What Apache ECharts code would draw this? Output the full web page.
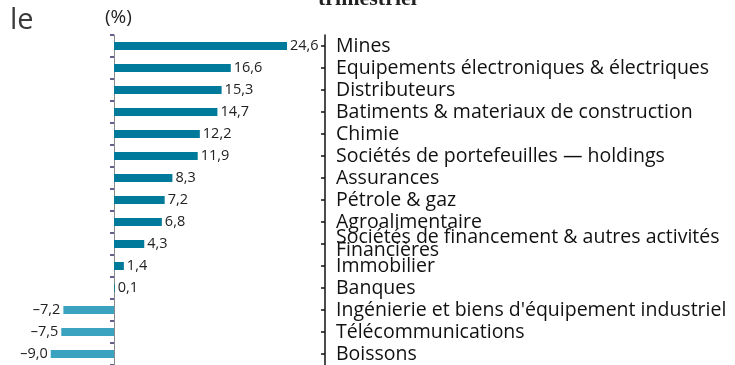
<!DOCTYPE html>
<html>
<head>
<meta charset="utf-8">
<script src="https://cdn.jsdelivr.net/npm/echarts@6/dist/echarts.min.js"></script>
<style>
  html, body { margin: 0; padding: 0; background: #fff; }
  #chart { width: 735px; height: 365px; }
</style>
</head>
<body>
<div id="chart"></div>
<script>
// Sector performance over the quarter, in %
const sectors = [
  'Mines',
  'Equipements électroniques & électriques',
  'Distributeurs',
  'Batiments & materiaux de construction',
  'Chimie',
  'Sociétés de portefeuilles — holdings',
  'Assurances',
  'Pétrole & gaz',
  'Agroalimentaire',
  'Sociétés de financement & autres activités\nFinancières',
  'Immobilier',
  'Banques',
  "Ingénierie et biens d'équipement industriel",
  'Télécommunications',
  'Boissons'
];
const changes = [24.6, 16.6, 15.3, 14.7, 12.2, 11.9, 8.3, 7.2, 6.8, 4.3, 1.4, 0.1, -7.2, -7.5, -9.0];

const POS_COLOR = '#007a9b';
const NEG_COLOR = '#3ba3c0';
const FONT = '"Open Sans", "Noto Sans", sans-serif';

const fmt = v => (v < 0 ? '–' : '') + Math.abs(v).toFixed(1).replace('.', ',');

const barData = changes.map(v => ({
  value: v,
  itemStyle: { color: v < 0 ? NEG_COLOR : POS_COLOR },
  label: { position: v < 0 ? 'left' : 'right' }
}));

const chart = echarts.init(document.getElementById('chart'), null, { renderer: 'canvas' });
chart.setOption({
  animation: false,
  backgroundColor: '#ffffff',
  grid: { left: 1.5, right: 410, top: 35, bottom: -3, containLabel: false },
  xAxis: {
    type: 'value',
    min: -16,
    max: 30,
    show: false
  },
  yAxis: [
    {
      type: 'category',
      data: sectors,
      inverse: true,
      position: 'left',
      axisLine: { show: true, onZero: true, lineStyle: { color: '#8a8a8a', width: 1 } },
      axisTick: { show: true, interval: 0, length: 4, lineStyle: { color: '#2f2a6b', width: 1.5 } },
      axisLabel: { show: false },
      splitLine: { show: false }
    },
    {
      type: 'category',
      data: sectors,
      inverse: true,
      position: 'right',
      axisLine: { show: true, onZero: false, lineStyle: { color: '#111', width: 1.5 } },
      axisTick: { show: true, interval: 0, inside: true, alignWithLabel: true, length: 4, lineStyle: { color: '#111', width: 1.5 } },
      axisLabel: {
        show: true,
        interval: 0,
        margin: 11,
        fontFamily: FONT,
        fontSize: 19.5,
        color: '#111',
        lineHeight: 13
      },
      splitLine: { show: false }
    }
  ],
  series: [{
    type: 'bar',
    yAxisIndex: 0,
    data: barData,
    barWidth: 8,
    label: {
      show: true,
      distance: 3,
      fontFamily: FONT,
      fontSize: 14.5,
      color: '#222',
      formatter: p => fmt(p.value)
    }
  }],
  graphic: [
    {
      type: 'text',
      left: 10, top: 6,
      style: { text: 'le', font: '29px "Open Sans", sans-serif', fill: '#3a3a3a' }
    },
    {
      type: 'text',
      left: 105, top: 8,
      style: { text: '(%)', font: '19px "Open Sans", sans-serif', fill: '#222' }
    },
    {
      type: 'text',
      x: 318, y: -1,
      style: {
        text: 'trimestriel',
        font: 'bold 22px "Liberation Serif", "DejaVu Serif", serif',
        fill: '#222',
        verticalAlign: 'middle'
      }
    }
  ]
});
</script>
</body>
</html>
